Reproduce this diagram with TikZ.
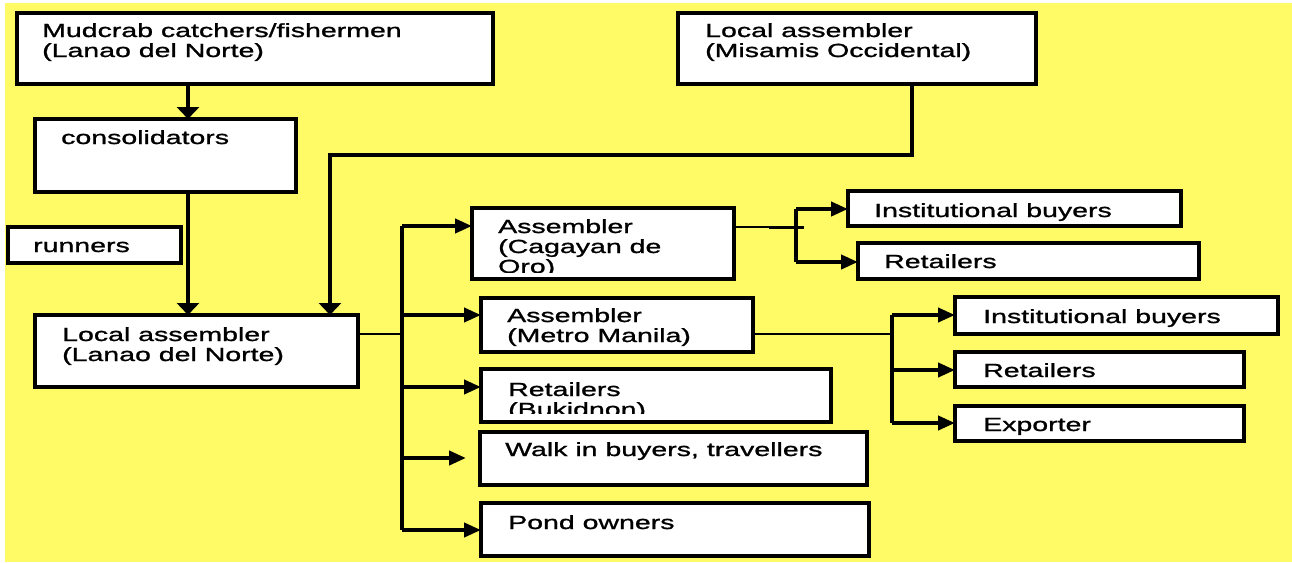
\documentclass[tikz,border=0pt]{standalone}
\usepackage{fontspec}
\setmainfont{Liberation Sans}[FakeStretch=1.5,FakeBold=1.2]
\usetikzlibrary{arrows.meta}
\definecolor{bgyellow}{RGB}{255,251,102}
\tikzset{
  x=1pt, y=-1pt,
  box/.style={draw=black, fill=white, line width=4pt},
  lbl/.style={anchor=base west, inner sep=0pt, font=\fontsize{19}{20}\selectfont, align=left},
  thick line/.style={line width=4pt},
  thin line/.style={line width=2.4pt},
  arrv/.style={-{Triangle[length=12pt,width=22pt]}},
  arrh/.style={-{Triangle[length=17pt,width=14pt]}},
}
\begin{document}
\begin{tikzpicture}
\useasboundingbox (0,0) rectangle (1292,562);
\fill[white] (0,0) rectangle (1292,562);
\fill[bgyellow] (5,3) rectangle (1292,562);

% boxes
\draw[box] (17,13) rectangle (493,84);
\draw[box] (678,13) rectangle (1036,84);
\draw[box] (35,119) rectangle (296,192);
\draw[box] (8,227) rectangle (181,263);
\draw[box] (35,315) rectangle (358,387);
\draw[box] (472,208) rectangle (734,279);
\draw[box] (481,298) rectangle (753,352);
\draw[box] (481,369) rectangle (831,422);
\draw[box] (480,432) rectangle (867,485);
\draw[box] (481,503) rectangle (869,556);
\draw[box] (848,191) rectangle (1181,226);
\draw[box] (858,243) rectangle (1199,279);
\draw[box] (955,297) rectangle (1278,334);
\draw[box] (955,352) rectangle (1244,387);
\draw[box] (955,406) rectangle (1244,441);

% named anchors for boxes
\coordinate (mudS) at (188,84);
\coordinate (misS) at (912,84);
\coordinate (conN) at (188,119);
\coordinate (conS) at (188,192);
\coordinate (ldnN1) at (188,315);
\coordinate (ldnN2) at (330,315);
\coordinate (ldnE) at (358,334);
\coordinate (cagW) at (472,226);
\coordinate (cagE) at (734,227);
\coordinate (metW) at (481,315);
\coordinate (metE) at (753,334);
\coordinate (bukW) at (481,387);
\coordinate (walkT) at (466,458);
\coordinate (pondW) at (481,530);
\coordinate (ib1W) at (848,209);
\coordinate (ret1W) at (858,262);
\coordinate (ib2W) at (955,315);
\coordinate (ret2W) at (955,370);
\coordinate (expW) at (955,423);

% texts (multi-line nodes: base = last line)
\node[lbl] (tmud) at (42,57) {Mudcrab catchers/fishermen\\(Lanao del Norte)};
\node[lbl] (tmis) at (705,57) {Local assembler\\(Misamis Occidental)};
\node[lbl] (tcon) at (61,144) {consolidators};
\node[lbl] (trun) at (33,252) {runners};
\node[lbl] (tldn) at (62,361) {Local assembler\\(Lanao del Norte)};
\begin{scope}
  \clip (474,210) rectangle (733,272);
  \node[lbl] (tcag) at (498,273) {Assembler\\(Cagayan de\\Oro)};
\end{scope}
\node[lbl] (tmet) at (507,342) {Assembler\\(Metro Manila)};
\begin{scope}
  \clip (483,371) rectangle (830,413);
  \node[lbl] (tbuk) at (508,416) {Retailers\\(Bukidnon)};
\end{scope}
\node[lbl] (twalk) at (505,456) {Walk in buyers, travellers};
\node[lbl] (tpond) at (508,529) {Pond owners};
\node[lbl] (tib1) at (874,217) {Institutional buyers};
\node[lbl] (tret1) at (884,268) {Retailers};
\node[lbl] (tib2) at (983,323) {Institutional buyers};
\node[lbl] (tret2) at (983,377) {Retailers};
\node[lbl] (texp) at (983,431) {Exporter};

% connectors left column
\draw[thick line, arrv] (mudS) -- (conN);
\draw[thick line, arrv] (conS) -- (ldnN1);
\draw[thick line, arrv] (misS) |- (330,155) -- (ldnN2);

% branch from Lanao del Norte
\coordinate (brA) at (402,226);
\coordinate (brB) at (402,530);
\draw[thin line] (ldnE) -- (402,334);
\draw[thick line] (brA) -- (brB);
\draw[thick line, arrh] (brA) -- (cagW);
\draw[thick line, arrh] (402,315) -- (metW);
\draw[thick line, arrh] (402,387) -- (bukW);
\draw[thick line, arrh] (402,458) -- (walkT);
\draw[thick line, arrh] (brB) -- (pondW);

% branch from Cagayan
\draw[thin line] (cagE) -- (769,227);
\draw[line width=3pt] (769,227) -- (804,227);
\draw[thick line] (796,209) -- (796,262);
\draw[thick line, arrh] (796,209) -- (ib1W);
\draw[thick line, arrh] (796,262) -- (ret1W);

% branch from Metro Manila
\draw[thin line] (metE) -- (892,334);
\draw[thick line] (892,315) -- (892,423);
\draw[thick line, arrh] (892,315) -- (ib2W);
\draw[thick line, arrh] (892,370) -- (ret2W);
\draw[thick line, arrh] (892,423) -- (expW);
\end{tikzpicture}
\end{document}
